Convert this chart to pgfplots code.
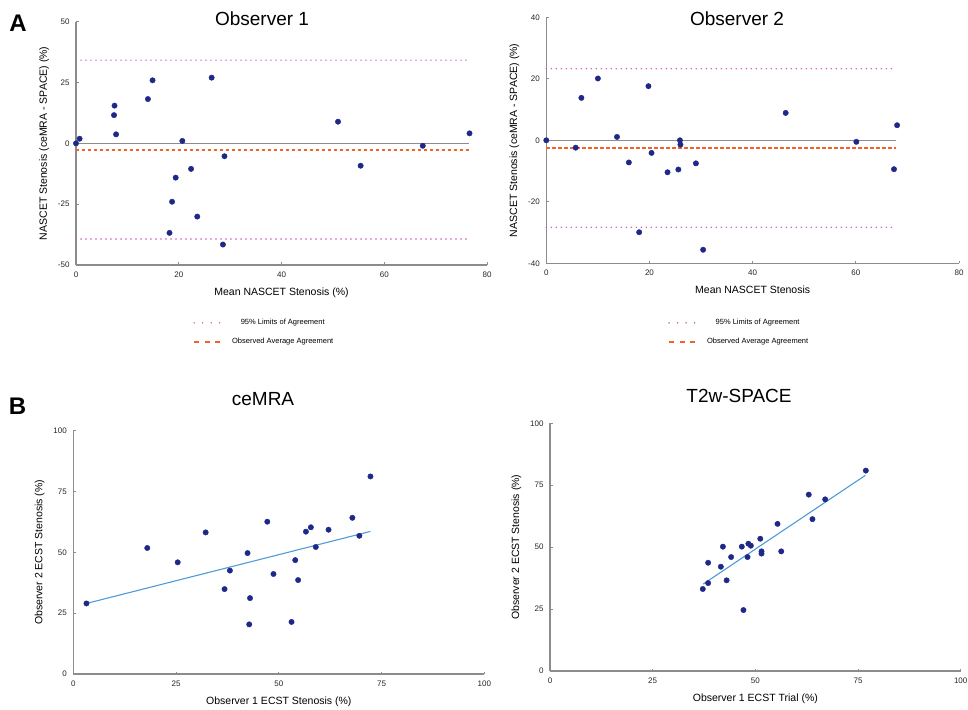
\documentclass[border=0pt]{standalone}
\usepackage{fontspec}
\setmainfont{Liberation Sans}
\usepackage{pgfplots}
\pgfplotsset{compat=1.18}

\definecolor{dotblue}{RGB}{30,40,135}
\definecolor{meanorange}{RGB}{240,100,40}
\definecolor{limitpink}{RGB}{200,90,185}
\definecolor{fitblue}{RGB}{80,155,215}
\definecolor{axgray}{RGB}{140,140,140}

\pgfplotsset{
  panel/.style={
    scale only axis,
    axis lines=left,
    axis line style={-, axgray, line width=1.1pt},
    tick style={axgray, line width=0.8pt},
    major tick length=2.5pt,
    tick align=inside,
    tick label style={font=\fontsize{8}{9}\selectfont, color=black!85},
    xticklabel style={yshift=-3pt},
    yticklabel style={xshift=-3pt},
    label style={font=\fontsize{10.5}{12}\selectfont},
    xlabel style={yshift=-4pt},
    ylabel style={yshift=2pt},
    /pgf/number format/assume math mode=true,
    clip=false,
  },
  pts/.style={only marks, mark=*, mark size=2.7pt,
    mark options={draw=dotblue, fill=dotblue}},
  limline/.style={limitpink, line width=1.6pt, line cap=round,
    dash pattern=on 0pt off 5pt},
  meanline/.style={meanorange, line width=2pt, dash pattern=on 3.3pt off 2.7pt},
  balegend/.style={
    legend cell align=center,
    legend style={draw=none, fill=none, inner sep=0pt, outer sep=0pt,
      font=\fontsize{7.5}{8}\selectfont, row sep=8pt, anchor=north west,
      /tikz/every odd column/.append style={column sep=9pt}},
  },
}

\begin{document}
\begin{tikzpicture}
\useasboundingbox (0,0) rectangle (968pt,709pt);

% ---- A: Observer 1
\begin{axis}[panel, balegend,
  at={(76pt,444pt)}, anchor=south west,
  width=411pt, height=243.3pt,
  xmin=0, xmax=80, ymin=-50, ymax=50,
  xtick={0,20,40,60,80}, ytick={-50,-25,0,25,50},
  xlabel={Mean NASCET Stenosis (\%)},
  ylabel={NASCET Stenosis (ceMRA - SPACE) (\%)},
  legend style={at={(0.285,-0.215)}},
]
\addplot[limline, legend image code/.code={\draw[limitpink, line width=1.7pt, line cap=round, dash pattern=on 0pt off 8.5pt] (0pt,0pt) -- (26pt,0pt);}]
  coordinates {(0,34.2) (76.5,34.2)};
\addlegendentry{95\% Limits of Agreement}
\addplot[limline, forget plot] coordinates {(0,-39.3) (76.5,-39.3)};
\addplot[axgray, line width=0.9pt, forget plot] coordinates {(0,0) (76.5,0)};
\addplot[meanline, legend image code/.code={\draw[meanorange, line width=2pt, dash pattern=on 5pt off 5.5pt] (0pt,0pt) -- (26pt,0pt);}]
  coordinates {(0,-2.6) (76.5,-2.6)};
\addlegendentry{Observed Average Agreement}
\addplot[pts, forget plot] coordinates {
  (0,0) (0.7,1.9) (7.5,15.5) (7.4,11.6) (7.8,3.7) (14.0,18.2) (14.9,25.9)
  (26.4,27.0) (20.7,1.0) (28.9,-5.3) (19.4,-14.1) (22.4,-10.5) (18.7,-24.0)
  (23.6,-30.1) (18.2,-36.8) (28.6,-41.6) (51.0,8.9) (55.4,-9.2) (67.5,-1.0)
  (76.6,4.1)
};
\end{axis}

% ---- A: Observer 2
\begin{axis}[panel, balegend,
  at={(546.3pt,445.7pt)}, anchor=south west,
  width=412.7pt, height=246pt,
  xmin=0, xmax=80, ymin=-40, ymax=40,
  xtick={0,20,40,60,80}, ytick={-40,-20,0,20,40},
  xlabel={Mean NASCET Stenosis},
  ylabel={NASCET Stenosis (ceMRA - SPACE) (\%)},
  legend style={at={(0.295,-0.22)}},
]
\addplot[limline, legend image code/.code={\draw[limitpink, line width=1.7pt, line cap=round, dash pattern=on 0pt off 8.5pt] (0pt,0pt) -- (26pt,0pt);}]
  coordinates {(0,23.3) (67.7,23.3)};
\addlegendentry{95\% Limits of Agreement}
\addplot[limline, forget plot] coordinates {(0,-28.3) (67.7,-28.3)};
\addplot[axgray, line width=0.9pt, forget plot] coordinates {(0,0) (67.7,0)};
\addplot[meanline, legend image code/.code={\draw[meanorange, line width=2pt, dash pattern=on 5pt off 5.5pt] (0pt,0pt) -- (26pt,0pt);}]
  coordinates {(0,-2.4) (67.7,-2.4)};
\addlegendentry{Observed Average Agreement}
\addplot[pts, forget plot] coordinates {
  (0,0) (5.7,-2.4) (6.8,13.8) (10.0,20.1) (13.7,1.1) (16.0,-7.2) (19.8,17.6)
  (20.4,-4.1) (18.0,-29.9) (23.5,-10.4) (25.6,-9.5) (25.9,0) (26.0,-1.4)
  (29.0,-7.5) (30.4,-35.6) (46.4,8.9) (60.1,-0.5) (67.4,-9.4) (68.0,4.9)
};
\end{axis}

% ---- B: ceMRA
\begin{axis}[panel,
  at={(73.3pt,35pt)}, anchor=south west,
  width=411pt, height=243.3pt,
  xmin=0, xmax=100, ymin=0, ymax=100,
  xtick={0,25,50,75,100}, ytick={0,25,50,75,100},
  xlabel={Observer 1 ECST Stenosis (\%)},
  ylabel={Observer 2 ECST Stenosis (\%)},
]
\addplot[fitblue, line width=1.1pt] coordinates {(3.2,29.0) (72.3,58.6)};
\addplot[pts] coordinates {
  (3.2,29.0) (18.0,51.8) (25.4,45.9) (32.2,58.2) (36.8,34.9) (38.1,42.5)
  (42.4,49.7) (43.0,31.2) (42.8,20.4) (47.2,62.6) (48.7,41.1) (53.1,21.4)
  (54.0,46.8) (54.7,38.6) (56.6,58.5) (57.8,60.3) (59.0,52.2) (62.1,59.3)
  (67.9,64.2) (69.6,56.8) (72.3,81.2)
};
\end{axis}

% ---- B: T2w-SPACE
\begin{axis}[panel,
  at={(550pt,38pt)}, anchor=south west,
  width=410.7pt, height=247.7pt,
  xmin=0, xmax=100, ymin=0, ymax=100,
  xtick={0,25,50,75,100}, ytick={0,25,50,75,100},
  xlabel={Observer 1 ECST Trial (\%)},
  ylabel={Observer 2 ECST Stenosis (\%)},
]
\addplot[fitblue, line width=1.1pt] coordinates {(37.3,35.1) (76.8,79.0)};
\addplot[pts] coordinates {
  (37.2,33.1) (38.5,35.5) (38.5,43.7) (41.6,42.1) (42.1,50.2) (43.0,36.6)
  (44.1,46.0) (46.7,50.2) (47.1,24.6) (48.1,46.0) (48.3,51.4) (48.9,50.6)
  (51.2,53.4) (51.5,48.3) (51.5,47.4) (55.4,59.4) (56.3,48.3) (63.0,71.2)
  (63.9,61.3) (67.0,69.3) (76.9,80.9)
};
\end{axis}

% titles and panel letters
\node[font=\fontsize{19}{22}\selectfont] at (262pt,690pt) {Observer 1};
\node[font=\fontsize{19}{22}\selectfont] at (737pt,690pt) {Observer 2};
\node[font=\fontsize{19}{22}\selectfont] at (263pt,309.5pt) {ceMRA};
\node[font=\fontsize{19}{22}\selectfont] at (739pt,313.5pt) {T2w-SPACE};
\node[font=\fontsize{24}{28}\selectfont\bfseries] at (18pt,686pt) {A};
\node[font=\fontsize{24}{28}\selectfont\bfseries] at (17.5pt,303pt) {B};
\end{tikzpicture}
\end{document}
